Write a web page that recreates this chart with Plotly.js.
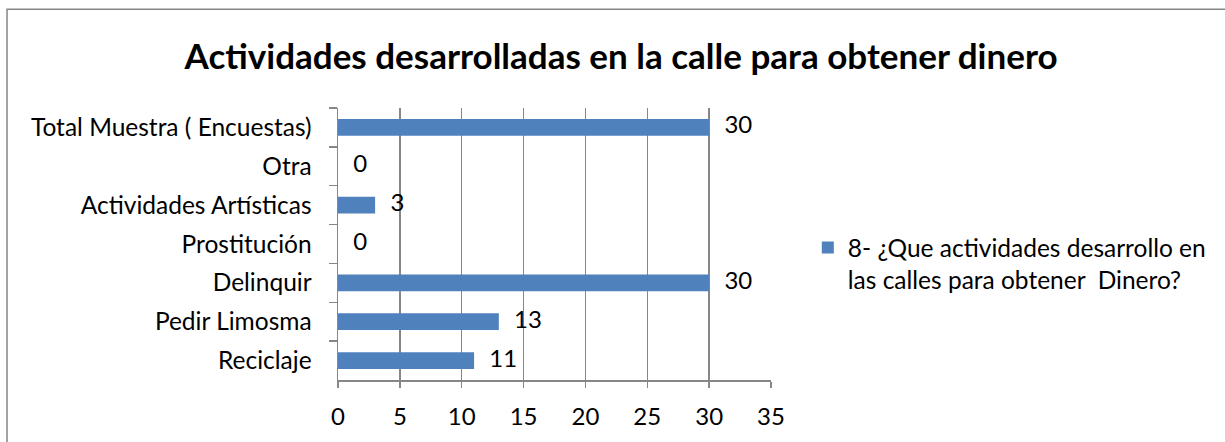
<!DOCTYPE html>
<html><head><meta charset="utf-8">
<script src="https://cdn.plot.ly/plotly-3.0.1.min.js"></script>
<style>body{margin:0;background:#fff}</style>
</head><body><div id="chart" style="width:1225px;height:442px"></div>
<script>
const categories = ["Total Muestra ( Encuestas)", "Otra", "Actividades Artísticas", "Prostitución", "Delinquir", "Pedir Limosma", "Reciclaje"];
const values = [30, 0, 3, 0, 30, 13, 11];
const seriesName = "8- ¿Que actividades desarrollo en<br>las calles para obtener  Dinero?";
const xTicks = [0, 5, 10, 15, 20, 25, 30, 35];
const titleText = "Actividades desarrolladas en la calle para obtener dinero";

const FONT = "Lato, 'Open Sans', sans-serif";
const labelText = values.map(v => "\u00a0\u00a0\u2009" + v);

const data = [
  {
    type: "bar", orientation: "h",
    x: values, y: categories, name: seriesName,
    marker: {color: "#4F81BD", line: {width: 0}},
    width: 0.43, hoverinfo: "x+y"
  },
  {
    type: "scatter", mode: "text",
    x: values, y: categories, text: labelText,
    textposition: "middle right", showlegend: false, cliponaxis: false,
    textfont: {family: FONT, size: 24, color: "#000"}, hoverinfo: "skip"
  }
];

const layout = {
  width: 1225, height: 442,
  paper_bgcolor: "#fff", plot_bgcolor: "#fff",
  margin: {l: 338, r: 454, t: 108, b: 62},
  font: {family: FONT, color: "#000"},
  title: {
    text: "<b>" + titleText + "</b>",
    font: {family: FONT, size: 35, color: "#000"},
    x: 0.507, xanchor: "center", y: 0.871, yanchor: "middle"
  },
  xaxis: {
    range: [0, 35], tickvals: xTicks, ticktext: xTicks.map(String),
    showgrid: true, gridcolor: "#878787", gridwidth: 1.5,
    zeroline: false, showline: true, linecolor: "#878787", linewidth: 1.5,
    ticks: "outside", ticklen: 6, tickcolor: "#878787", tickwidth: 1.5,
    ticklabelstandoff: 9,
    tickfont: {family: FONT, size: 24, color: "#000"}, fixedrange: true
  },
  yaxis: {
    type: "category", autorange: "reversed",
    showgrid: false, zeroline: false,
    showline: true, linecolor: "#878787", linewidth: 1.5,
    ticks: "outside", tickson: "boundaries", ticklen: 8, tickcolor: "#878787", tickwidth: 1.5,
    ticklabelstandoff: 20,
    tickfont: {family: FONT, size: 24.5, color: "#000"}, fixedrange: true
  },
  showlegend: true,
  legend: {
    x: 1.085, xanchor: "left", y: 0.428, yanchor: "middle",
    valign: "top",
    font: {family: FONT, size: 24.5, color: "#000"},
    bgcolor: "rgba(0,0,0,0)", borderwidth: 0
  },
  shapes: [{
    type: "rect", xref: "paper", yref: "paper",
    x0: -0.7644, x1: 3, y0: -1, y1: 1.3628,
    line: {color: "#868686", width: 1.5}, fillcolor: "rgba(0,0,0,0)", layer: "below"
  }]
};

Plotly.newPlot("chart", data, layout, {displayModeBar: false, staticPlot: true});
</script>
</body></html>
